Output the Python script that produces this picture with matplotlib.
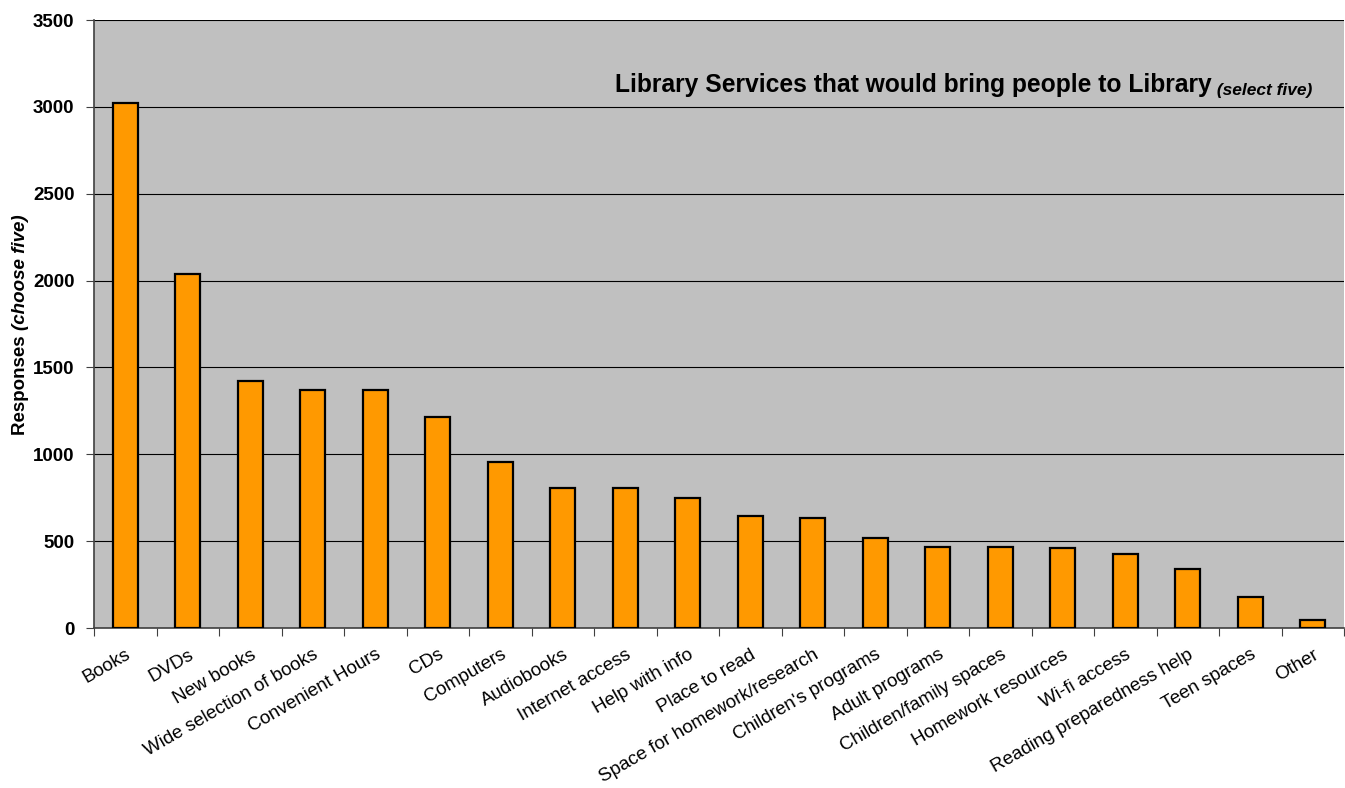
import numpy as np
import matplotlib.pyplot as plt

plt.rcParams['font.family'] = ['Liberation Sans', 'DejaVu Sans']

# Datos
servicios = ['Books', 'DVDs', 'New books', 'Wide selection of books', 'Convenient Hours',
             'CDs', 'Computers', 'Audiobooks', 'Internet access', 'Help with info',
             'Place to read', 'Space for homework/research', "Children's programs",
             'Adult programs', 'Children/family spaces', 'Homework resources',
             'Wi-fi access', 'Reading preparedness help', 'Teen spaces', 'Other']
respuestas = [3025, 2040, 1420, 1370, 1368, 1215, 958, 808, 806, 748,
              645, 632, 518, 468, 468, 462, 424, 337, 180, 48]
yticks = [0, 500, 1000, 1500, 2000, 2500, 3000, 3500]

fig = plt.figure(figsize=(13.45, 7.88), dpi=100)
ax = fig.add_axes([0.0699, 0.203, 0.9294, 0.7716])
ax.set_facecolor('#C0C0C0')

x = np.arange(len(servicios))
ax.bar(x, respuestas, width=0.4, color='#FF9900', edgecolor='black', linewidth=1.6, zorder=3)

ax.set_xlim(-0.5, len(servicios) - 0.5)
ax.set_ylim(0, 3500)
ax.set_yticks(yticks)
ax.set_yticklabels([str(v) for v in yticks], fontsize=13.5, fontweight='bold')
ax.yaxis.grid(True, color='black', linewidth=0.8, zorder=1)
ax.set_axisbelow(True)

# ticks en los limites de categoria, etiquetas en el centro
ax.set_xticks(np.arange(len(servicios) + 1) - 0.5)
ax.set_xticklabels([])
ax.set_xticks(x, minor=True)
ax.set_xticklabels(servicios, minor=True, rotation=30, ha='right',
                   rotation_mode='anchor', fontsize=13.5)
ax.tick_params(axis='x', which='minor', length=0, pad=13)
ax.tick_params(axis='x', which='major', length=6, color='#404040')
ax.tick_params(axis='y', length=6, color='#404040', pad=8)

for s in ['top', 'right']:
    ax.spines[s].set_visible(False)
for s in ['left', 'bottom']:
    ax.spines[s].set_color('#404040')
    ax.spines[s].set_linewidth(1.2)

# Titulo dentro del grafico
t2 = ax.text(0.9744, 0.877, ' (select five)', transform=ax.transAxes, ha='right', va='baseline',
             fontsize=12.5, fontweight='bold', fontstyle='italic')
ax.annotate('Library Services that would bring people to Library', xy=(0, 0.05), xycoords=t2,
            ha='right', va='bottom', fontsize=17.7, fontweight='bold')

# Etiqueta del eje y
t1 = fig.text(0.0155, 0.515, 'Responses ', rotation=90, ha='center', va='center',
              fontsize=13.5, fontweight='bold')
ax.annotate('(choose five)', xy=(0.5, 1), xycoords=t1, rotation=90, ha='center', va='bottom',
            fontsize=13.5, fontweight='bold', fontstyle='italic')

fig.savefig('out.png', dpi=100)
